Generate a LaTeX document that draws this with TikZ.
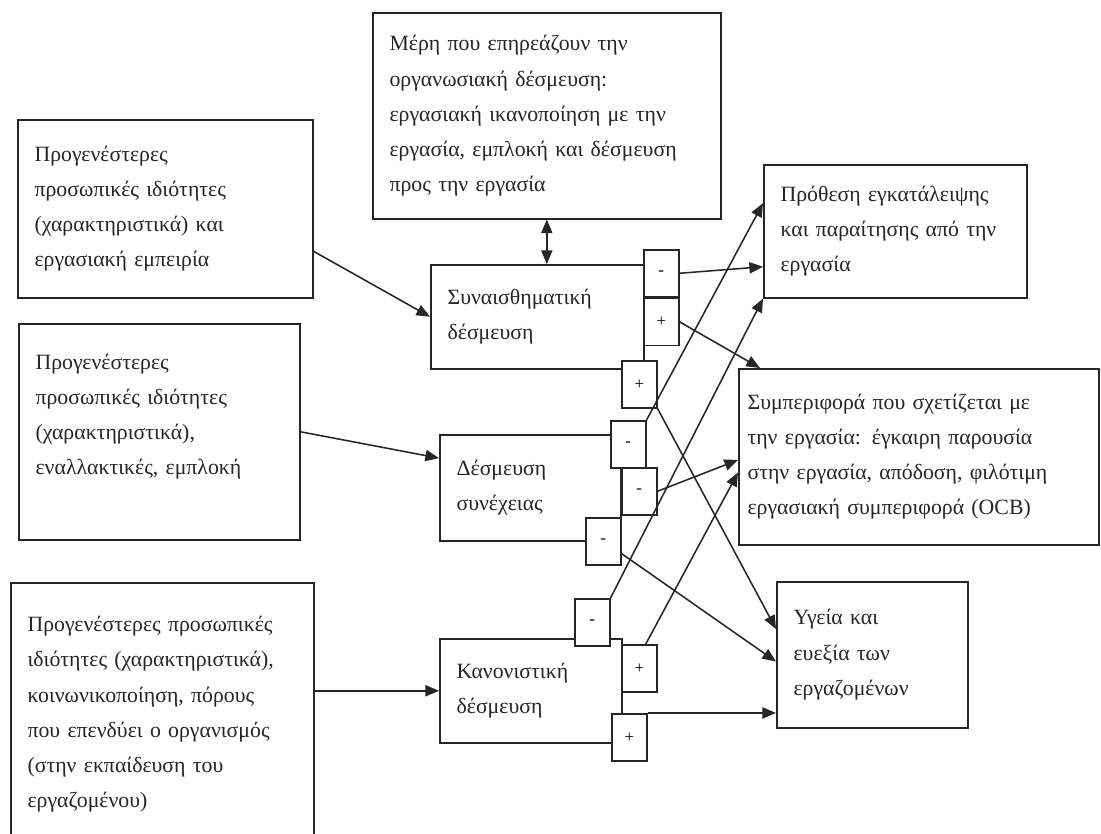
\documentclass[tikz,border=0pt]{standalone}
\usepackage{fontspec}
\setmainfont{Liberation Serif}
\usetikzlibrary{positioning, arrows.meta}

\begin{document}
\begin{tikzpicture}[
	x=0.025cm, y=-0.025cm,
	line width=1.1pt, draw=black!85,
	blok/.style={rectangle, draw, fill=white, anchor=north west, align=left, inner xsep=4.2mm, inner ysep=0pt, font=\fontsize{15.5}{25}\selectfont, text=black!85},
	sign/.style={rectangle, draw, fill=white, anchor=north west, inner sep=0pt, minimum width=8.75mm, minimum height=11.75mm, font=\fontsize{12}{14}\selectfont},
	>={Triangle[length=3.4mm, width=2.8mm]}
]

\useasboundingbox (0,0) rectangle (1101,834);
\clip (0,0) rectangle (1101,834);

% sources
\node[blok, minimum width=87mm, minimum height=51.5mm, text width=78.6mm] (mere) at (372,12) {Μέρη που επηρεάζουν την\\ οργανωσιακή δέσμευση:\\ εργασιακή ικανοποίηση με την\\ εργασία, εμπλοκή και δέσμευση\\ προς την εργασία};
\node[blok, minimum width=73.75mm, minimum height=44.5mm, text width=65.35mm] (prog1) at (17,119) {Προγενέστερες\\ προσωπικές ιδιότητες\\ (χαρακτηριστικά) και\\ εργασιακή εμπειρία};
\node[blok, minimum width=70.25mm, minimum height=54mm, text width=61.85mm] (prog2) at (18,323) {Προγενέστερες\\ προσωπικές ιδιότητες\\ (χαρακτηριστικά),\\ εναλλακτικές, εμπλοκή\\ \mbox{}};
\node[blok, minimum width=75.75mm, minimum height=65.75mm, text width=67.35mm] (prog3) at (10,582) {Προγενέστερες προσωπικές\\ ιδιότητες (χαρακτηριστικά),\\ κοινωνικοποίηση, πόρους\\ που επενδύει ο οργανισμός\\ (στην εκπαίδευση του\\ εργαζομένου)};

% commitment
\node[blok, minimum width=53.25mm, minimum height=26mm, text width=44.85mm] (syn) at (430,264) {Συναισθηματική\\ δέσμευση};
\node[blok, minimum width=45.25mm, minimum height=26.5mm, text width=36.85mm] (sun) at (439,434) {Δέσμευση\\ συνέχειας};
\node[blok, minimum width=45.5mm, minimum height=26mm, text width=37.1mm] (kan) at (439,638) {Κανονιστική\\ δέσμευση};

% outcomes
\node[blok, minimum width=65.75mm, minimum height=33.25mm, text width=57.35mm] (prot) at (763,164) {Πρόθεση εγκατάλειψης\\ και παραίτησης από την\\ εργασία};
\node[blok, minimum width=90mm, minimum height=44mm, inner xsep=2.2mm, text width=85.6mm] (sump) at (738,368) {Συμπεριφορά που σχετίζεται με\\ την εργασία: έγκαιρη παρουσία\\ στην εργασία, απόδοση, φιλότιμη\\ εργασιακή συμπεριφορά (OCB)};
\node[blok, minimum width=47.75mm, minimum height=36.5mm, text width=39.35mm] (ygeia) at (776,581) {Υγεία και\\ ευεξία των\\ εργαζομένων};

% signs
\node[sign] (s1) at (643,249) {-};
\node[sign, below=0pt of s1] (s2) {+};
\node[sign] (s3) at (621,360) {+};
\node[sign] (c1) at (610,420) {-};
\node[sign] (c2) at (621,467) {-};
\node[sign] (c3) at (585,517) {-};
\node[sign] (n1) at (574,598) {-};
\node[sign] (n2) at (621,644) {+};
\node[sign] (n3) at (611,713) {+};

\draw[->] (prog1.-16) -- (syn.west);
\draw[->] (prog2.east) -- (sun.162);
\draw[->] (kan.west -| prog3.east) -- (kan.west);
\draw[<->] (mere.south) -- (mere.south |- syn.north);

\foreach \i/\j in {s1.east/prot.195, c1.north east/prot.168, n1.north east/prot.south west, c2.east/sump.181, n2.75/sump.185, s3.south east/ygeia.165, c3.-34/ygeia.184}
	\draw[->] (\i) -- (\j);

\draw[->] (s2.east) -- ([xshift=5.5mm]sump.north west);
\draw[->] (n3.north east) -- (n3.north east -| ygeia.west);

\end{tikzpicture}
\end{document}
